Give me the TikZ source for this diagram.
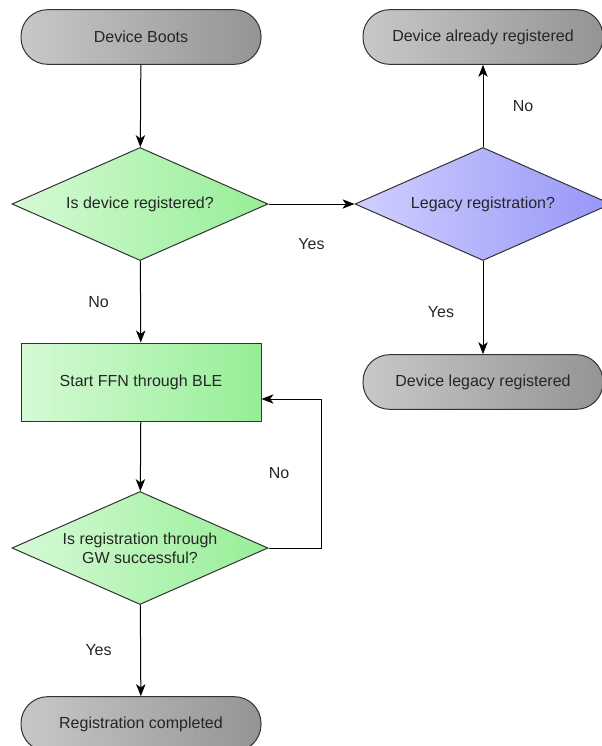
\documentclass[tikz,border=0pt]{standalone}
\usepackage{fontspec}
\setmainfont{Liberation Sans}
\usetikzlibrary{shapes.geometric,arrows.meta}

\definecolor{termL}{RGB}{200,200,200}
\definecolor{termR}{RGB}{148,148,148}
\definecolor{grnL}{RGB}{214,250,214}
\definecolor{grnR}{RGB}{150,238,150}
\definecolor{lilL}{RGB}{208,208,255}
\definecolor{lilR}{RGB}{150,150,248}

\begin{document}
\begin{tikzpicture}[>={Stealth[length=9pt,width=7pt,inset=2.5pt]},
                    x=0.75pt, y=-0.75pt, line width=0.75pt,
                    font=\fontsize{12}{14}\selectfont]
  \tikzstyle{term}=[draw=black!80, left color=termL, right color=termR,
                    rounded corners=20pt, minimum width=180pt,
                    minimum height=41pt, align=center, text=black!85]
  \tikzstyle{dec}=[diamond, draw=black!80, left color=grnL, right color=grnR,
                   minimum width=192pt, minimum height=84.75pt, aspect=2.27,
                   inner sep=0pt, align=center, text=black!85]
  \tikzstyle{act}=[draw=black!80, left color=grnL, right color=grnR,
                   minimum width=180pt, minimum height=58.5pt,
                   align=center, text=black!85]
  \tikzstyle{lbl}=[text=black!85]

  \useasboundingbox (0,0) rectangle (601,746);

  % ================= nhanh chinh (trai) ===================================
  \node[term] (boot)  at (141,37)  {Device Boots};
  \node[dec]  (isreg) at (140,204) {Is device registered?};
  \node[act]  (ffn)   at (141,382) {Start FFN through BLE};
  \node[dec]  (gw)    at (140,548) {Is registration through\\GW successful?};
  \node[term] (done)  at (141,724) {Registration completed};

  % ================= nhanh legacy (phai) ==================================
  \node[dec, left color=lilL, right color=lilR] (legacy) at (483,204)
        {Legacy registration?};
  \node[term] (already) at (483,37)  {Device already registered};
  \node[term] (legreg)  at (483,382) {Device legacy registered};

  % ================= mui ten ==============================================
  \draw[->] (boot) -- (isreg);
  \draw[->] (isreg) -- node[lbl, yshift=-30pt] {Yes} (legacy);
  \draw[->] (legacy) -- node[lbl, xshift=30pt] {No} (already);
  \draw[->] (legacy) -- node[lbl, xshift=-31.5pt, yshift=-3pt] {Yes} (legreg);
  \draw[->] (isreg) -- node[lbl, xshift=-31.5pt] {No} (ffn);
  \draw[->] (ffn) -- (gw);
  \draw[->] (gw) -- node[lbl, xshift=-31.5pt] {Yes} (done);

  % vong lap ve FFN
  \coordinate (back) at (321,399);
  \draw[->] (gw.east) -| node[lbl, pos=0.75, xshift=-31.5pt] {No} (back)
                     -- (back -| ffn.east);
\end{tikzpicture}
\end{document}
